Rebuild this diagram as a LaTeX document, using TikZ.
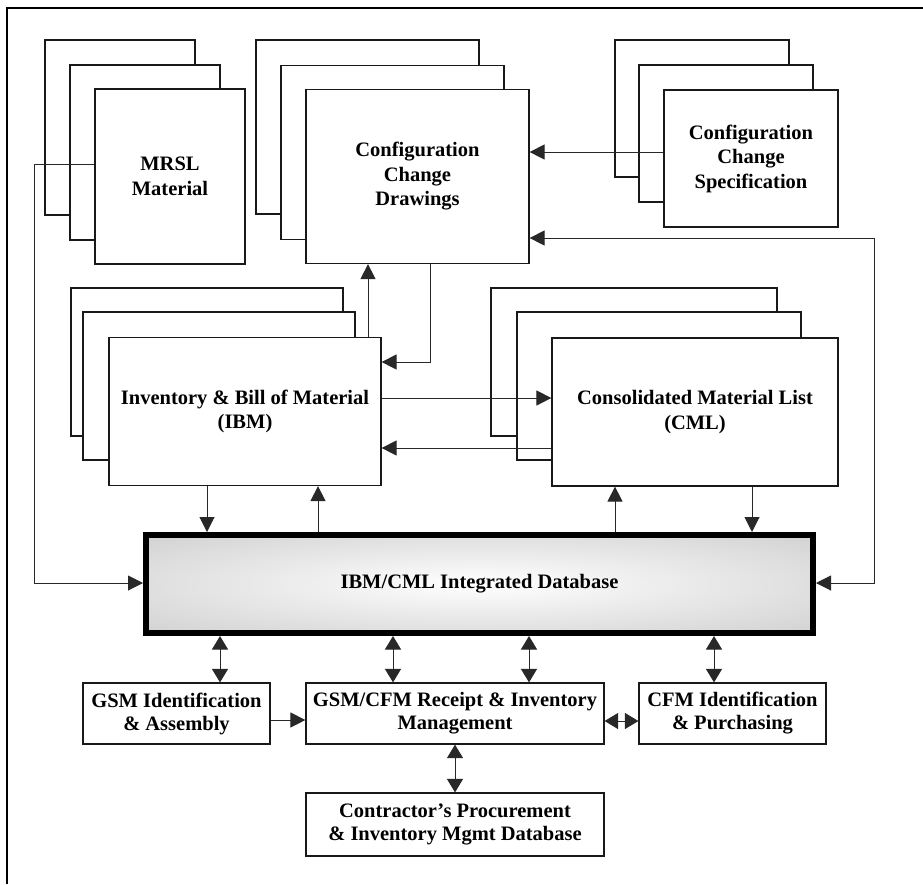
\documentclass[tikz,border=0pt]{standalone}
\usepackage{fontspec}
\setmainfont{Liberation Serif}
\usetikzlibrary{arrows.meta}
\definecolor{lineC}{RGB}{40,40,40}
\definecolor{dbEdge}{RGB}{192,192,192}
\definecolor{dbMid}{RGB}{234,234,234}
\pgfdeclareradialshading{dbshade}{\pgfpoint{0bp}{0bp}}{color(0bp)=(white); color(16bp)=(dbMid); color(50bp)=(dbEdge); color(75bp)=(dbEdge)}
\begin{document}
\begin{tikzpicture}[x=1pt,y=-1pt,
  box/.style={draw=black!90, line width=1.2pt, fill=white, inner sep=0pt, align=center,
    font=\bfseries\fontsize{20.5}{24.5}\selectfont},
  sbox/.style={box, font=\bfseries\fontsize{20.5}{23}\selectfont},
  arr/.style={draw=lineC, line width=1pt, -{Triangle[length=15pt,width=15pt]}},
  arrtwo/.style={draw=lineC, line width=1pt, {Triangle[length=15pt,width=15pt]}-{Triangle[length=15pt,width=15pt]}},
  arrsm/.style={draw=lineC, line width=1pt, {Triangle[length=13.5pt,width=16pt]}-{Triangle[length=13.5pt,width=16pt]}}]
\useasboundingbox (0,0) rectangle (923,884);
% outer frame
\draw[line width=2.6pt] (7,884) -- (7,8) -- (923,8);

% MRSL stack
\node[box, minimum width=150pt, minimum height=175pt] (mrslA) at (120,127.5) {};
\node[box, minimum width=150pt, minimum height=175pt] (mrslB) at (145,152.5) {};
\node[box, minimum width=150pt, minimum height=175pt] (mrsl) at (170,176.5) {MRSL\\Material};

% Drawings stack
\node[box, minimum width=223pt, minimum height=174pt] (drwA) at (367.5,127) {};
\node[box, minimum width=223pt, minimum height=174pt] (drwB) at (392.5,152.5) {};
\node[box, minimum width=223pt, minimum height=174pt] (drw) at (417.5,176.5) {Configuration\\Change\\Drawings};

% Specification stack
\node[box, minimum width=174pt, minimum height=137pt] (ccsA) at (702,108.5) {};
\node[box, minimum width=174pt, minimum height=137pt] (ccsB) at (726,133.5) {};
\node[box, minimum width=174pt, minimum height=137pt] (ccs) at (751,158.5) {Configuration\\Change\\Specification};

% IBM stack
\node[box, minimum width=272pt, minimum height=148pt] (ibmA) at (207,362) {};
\node[box, minimum width=272pt, minimum height=148pt] (ibmB) at (219,386) {};
\node[box, minimum width=272pt, minimum height=148pt] (ibm) at (245,411.5) {Inventory \& Bill of Material\\(IBM)};

% CML stack
\node[box, minimum width=286pt, minimum height=148pt] (cmlA) at (634,362) {};
\node[box, minimum width=284pt, minimum height=148pt] (cmlB) at (659,386) {};
\node[box, minimum width=286pt, minimum height=148pt] (cml) at (695,412) {Consolidated Material List\\(CML)};

% Database
\node[draw=black, line width=6pt, shade, shading=dbshade, minimum width=667pt, minimum height=98pt,
  inner sep=0pt, font=\bfseries\fontsize{20.5}{24.5}\selectfont] (db) at (479.5,584) {IBM/CML Integrated Database};

% bottom boxes
\node[sbox, minimum width=187pt, minimum height=61pt] (gsm) at (176.5,713.5) {GSM Identification\\\& Assembly};
\node[sbox, minimum width=298pt, minimum height=61pt] (rcpt) at (455,713.5) {GSM/CFM Receipt \& Inventory\\Management};
\node[sbox, minimum width=187pt, minimum height=61pt] (cfm) at (732.5,713.5) {CFM Identification\\\& Purchasing};
\node[sbox, minimum width=298pt, minimum height=63pt] (ctr) at (455,824.5) {Contractor’s Procurement\\\& Inventory Mgmt Database};

% connectors
\coordinate (mL) at (34,583);
\draw[arr] ([yshift=12.5pt]mrsl.west) -| (mL) -- (mL -| db.west);

\draw[arr] ([yshift=6.5pt]ccs.west) coordinate (c1) -- (c1 -| drw.east);

\coordinate (rR) at (874,583);
\draw[arrtwo] (rR -| db.east) -- (rR) |- ([yshift=-61.5pt]drw.east);

\draw[arr] ([xshift=123pt]ibm.north) coordinate (c2) -- (c2 |- drw.south);
\draw[arr] ([xshift=12.5pt]drw.south) |- ([yshift=49.5pt]ibm.east);

\draw[arr] ([yshift=13.5pt]ibm.east) coordinate (c3) -- (c3 -| cml.west);
\coordinate (c4) at ([yshift=-36.5pt]ibm.east);
\draw[arr] (c4 -| cml.west) -- (c4);

\draw[arr] ([xshift=-38pt]ibm.south) coordinate (c5) -- (c5 |- db.north);
\draw[arr] ([xshift=73pt]ibm.south |- db.north) -- ([xshift=73pt]ibm.south);
\draw[arr] ([xshift=-80pt]cml.south |- db.north) -- ([xshift=-80pt]cml.south);
\draw[arr] ([xshift=57pt]cml.south) coordinate (c6) -- (c6 |- db.north);

\draw[arrsm] ([xshift=43.5pt]gsm.north |- db.south) -- ([xshift=43.5pt]gsm.north);
\draw[arrsm] ([xshift=-62pt]rcpt.north |- db.south) -- ([xshift=-62pt]rcpt.north);
\draw[arrsm] ([xshift=74pt]rcpt.north |- db.south) -- ([xshift=74pt]rcpt.north);
\draw[arrsm] ([xshift=-18.5pt]cfm.north |- db.south) -- ([xshift=-18.5pt]cfm.north);

\draw[arr] ([yshift=-6.5pt]gsm.east) coordinate (c7) -- (c7 -| rcpt.west);
\draw[arrsm] ([yshift=-7.5pt]rcpt.east) coordinate (c8) -- (c8 -| cfm.west);
\draw[arrsm] (rcpt.south) -- (ctr.north);
\end{tikzpicture}
\end{document}
